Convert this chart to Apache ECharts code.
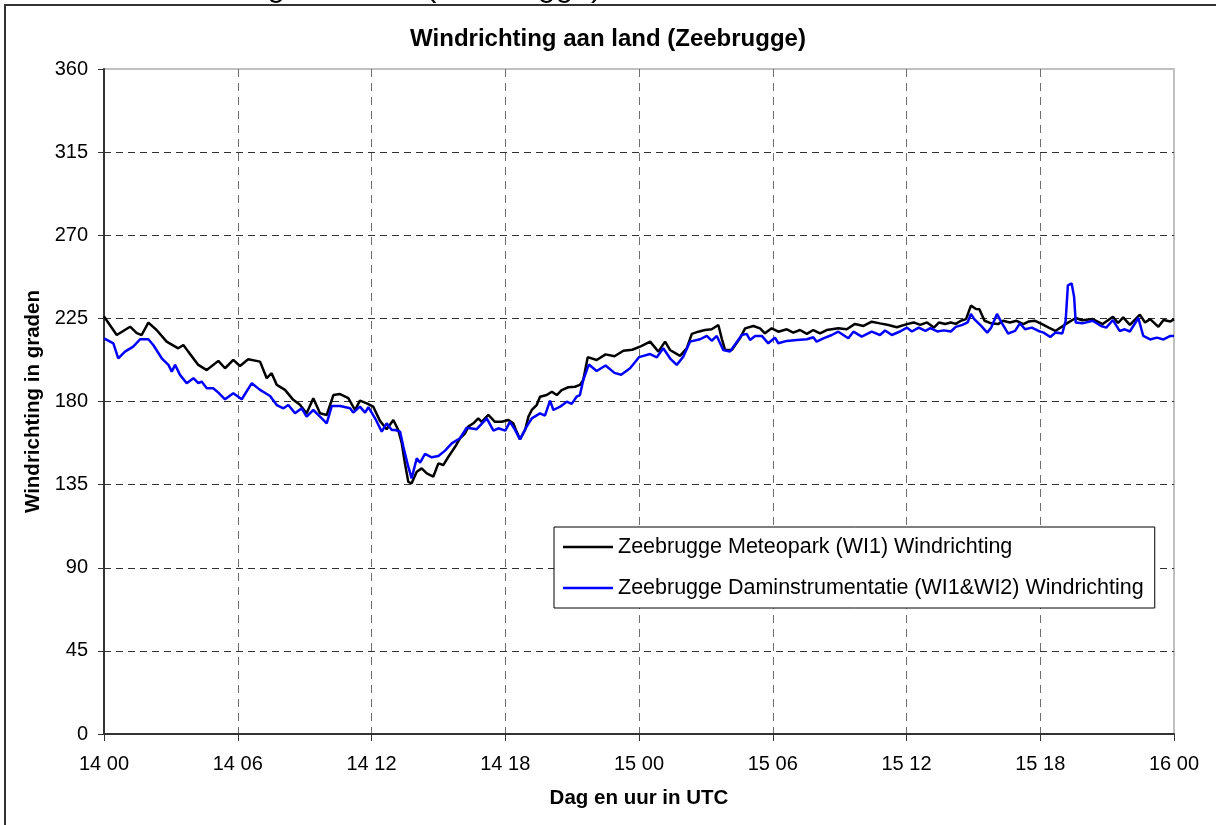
<!DOCTYPE html>
<html>
<head>
<meta charset="utf-8">
<script src="https://cdn.jsdelivr.net/npm/echarts@6/dist/echarts.min.js"></script>
<style>
  html, body { margin: 0; padding: 0; background: #fff; }
  #chart { width: 1216px; height: 825px; }
</style>
</head>
<body>
<div id="chart"></div>
<script>
// ---- data (hours since 14 00 UTC, wind direction in degrees) ----
const xTickLabels = ['14 00', '14 06', '14 12', '14 18', '15 00', '15 06', '15 12', '15 18', '16 00'];
const yTicks = [0, 45, 90, 135, 180, 225, 270, 315, 360];
const seriesNames = ['Zeebrugge Meteopark (WI1) Windrichting', 'Zeebrugge Daminstrumentatie (WI1&WI2) Windrichting'];

const meteoparkHours = [0, 0.57, 1.17, 1.47, 1.69, 1.99, 2.36, 2.81, 3.33, 3.56, 3.78, 4.23, 4.61, 5.13, 5.43, 5.8, 6.1, 6.47, 7.0, 7.3, 7.52, 7.75, 8.12, 8.49, 8.79, 9.09, 9.39, 9.69, 9.99, 10.29, 10.59, 10.96, 11.26, 11.48, 11.79, 12.08, 12.38, 12.68, 12.98, 13.2, 13.36, 13.5, 13.65, 13.8, 14.03, 14.25, 14.48, 14.77, 15.0, 15.22, 15.45, 15.75, 15.97, 16.2, 16.34, 16.57, 16.79, 16.94, 17.24, 17.54, 17.84, 18.14, 18.36, 18.51, 18.66, 18.89, 19.04, 19.19, 19.41, 19.56, 19.86, 20.09, 20.31, 20.53, 20.83, 21.13, 21.35, 21.5, 21.7, 22.1, 22.5, 22.9, 23.3, 23.7, 24.1, 24.5, 24.87, 25.17, 25.39, 25.84, 26.14, 26.37, 26.66, 26.96, 27.26, 27.56, 27.71, 27.86, 28.16, 28.53, 28.76, 29.13, 29.43, 29.65, 29.95, 30.25, 30.63, 30.92, 31.22, 31.53, 31.82, 32.12, 32.42, 32.94, 33.32, 33.69, 34.07, 34.44, 34.81, 35.19, 35.56, 36.02, 36.32, 36.62, 36.92, 37.23, 37.46, 37.73, 37.99, 38.21, 38.44, 38.67, 38.89, 39.12, 39.27, 39.5, 39.8, 40.11, 40.33, 40.64, 40.94, 41.24, 41.47, 41.77, 42.08, 42.38, 42.68, 43.14, 43.59, 43.88, 44.35, 44.8, 45.26, 45.49, 45.72, 46.02, 46.47, 46.7, 46.93, 47.3, 47.53, 47.84, 48];
const meteoparkValues = [226, 216, 220.5, 217, 216, 222.7, 218.7, 212.4, 208.8, 210.6, 207, 199.8, 197, 202, 198, 202.5, 199.2, 202.9, 201.6, 192.6, 195.3, 189, 186.3, 180.9, 178.2, 173.6, 181.8, 173.6, 172.7, 183.5, 184, 181.8, 175.4, 180.5, 179, 177.2, 169.5, 165, 170, 164.6, 157.3, 146.5, 136.5, 135.7, 142, 143.8, 141.1, 139.3, 146.5, 145.6, 150.1, 155.5, 160.1, 162.8, 166.4, 168.2, 170.9, 169, 172.7, 169, 169, 170, 168.2, 163.7, 159.5, 164.6, 171.8, 175.4, 178.1, 182.6, 183.5, 185.3, 183.5, 186.2, 187.7, 188, 189, 191.7, 204, 202.5, 205.5, 204.5, 207.5, 208, 210, 212.4, 207, 212.4, 207.9, 204.7, 208.8, 216.6, 217.8, 218.7, 219.1, 221.4, 214.2, 207.9, 207.9, 214.2, 219.6, 220.9, 219.6, 216.9, 219.6, 217.8, 219.1, 217.3, 218.7, 216.6, 218.7, 216.9, 218.7, 219.6, 219.1, 222, 220.9, 223.2, 222.3, 221.4, 220.2, 221.9, 222.8, 221.5, 222.8, 220, 222.8, 222, 222.8, 222, 223.7, 224.6, 231.9, 230.1, 230, 223.7, 222.3, 221.9, 223.7, 222.8, 223.7, 221.9, 223.3, 223.7, 221.9, 220, 218.2, 221.9, 225.2, 224, 224.6, 221.9, 225.9, 222.5, 225.5, 221.5, 227, 222.8, 224.6, 220.4, 224.1, 223.3, 224.6];

const damHours = [0, 0.42, 0.64, 0.94, 1.31, 1.62, 1.99, 2.21, 2.59, 2.89, 3.04, 3.19, 3.41, 3.71, 4.01, 4.23, 4.38, 4.61, 4.9, 5.13, 5.43, 5.8, 6.18, 6.63, 7.0, 7.45, 7.75, 8.05, 8.27, 8.57, 8.87, 9.09, 9.39, 9.77, 9.99, 10.22, 10.59, 11.04, 11.18, 11.48, 11.71, 11.86, 12.16, 12.46, 12.68, 12.91, 13.06, 13.28, 13.43, 13.65, 13.8, 14.03, 14.18, 14.4, 14.7, 15.0, 15.3, 15.6, 15.97, 16.27, 16.72, 17.17, 17.47, 17.69, 18.0, 18.21, 18.44, 18.66, 18.96, 19.19, 19.56, 19.78, 20.01, 20.16, 20.46, 20.76, 20.98, 21.2, 21.35, 21.5, 21.75, 22.1, 22.5, 22.9, 23.2, 23.6, 24.0, 24.5, 24.8, 25.09, 25.39, 25.69, 25.99, 26.29, 26.74, 27.04, 27.26, 27.49, 27.78, 28.08, 28.61, 28.83, 28.98, 29.21, 29.51, 29.8, 30.1, 30.25, 30.63, 31.08, 31.53, 31.82, 31.97, 32.27, 32.65, 32.94, 33.39, 33.62, 33.99, 34.44, 34.81, 35.04, 35.34, 35.71, 36.02, 36.24, 36.55, 36.85, 37.07, 37.38, 37.68, 37.99, 38.21, 38.51, 38.74, 38.89, 39.04, 39.35, 39.62, 39.8, 40.06, 40.26, 40.56, 40.87, 41.09, 41.32, 41.62, 41.92, 42.15, 42.45, 42.68, 42.99, 43.14, 43.24, 43.41, 43.52, 43.59, 43.89, 44.35, 44.73, 44.96, 45.26, 45.56, 45.79, 46.02, 46.4, 46.62, 46.93, 47.23, 47.53, 47.84, 48];
const damValues = [214.2, 211.5, 203.4, 207, 209.7, 213.7, 213.7, 210.6, 203.4, 199.8, 196.2, 199.8, 194.4, 189.9, 192.6, 189.9, 190.8, 187.2, 187.2, 184.8, 181.2, 184.5, 181.2, 189.9, 186.3, 183, 178.1, 176.3, 178.1, 173.6, 176.3, 171.8, 175.4, 170.9, 168.2, 177.6, 177.6, 176.3, 174, 177.2, 174, 176.9, 170.9, 163.7, 168.2, 164.6, 164.6, 163.7, 155.5, 144.7, 138.4, 149.3, 146.9, 151.6, 149.8, 150.5, 153.4, 157.3, 160.1, 165.8, 165, 170.9, 164.2, 165.5, 164.2, 169, 164.6, 159.5, 166.4, 170.9, 173.6, 172.3, 180.5, 175.4, 177.2, 179.9, 178.7, 182.6, 183.5, 191.7, 200, 196.5, 199.5, 195.5, 194.5, 198, 204, 205.7, 203.9, 208.8, 203.4, 199.8, 204.3, 212.4, 213.7, 215.5, 212.9, 215.5, 207.9, 207, 216, 216.6, 213.3, 215.5, 215.5, 211.5, 214.6, 211.5, 212.8, 213.3, 213.7, 214.8, 212.4, 214.2, 216, 217.8, 214.2, 217.8, 215.1, 217.8, 216, 218.4, 216, 217.9, 220, 217.9, 220, 218.2, 219.7, 217.9, 218.5, 217.9, 220.4, 221.5, 222.8, 227.4, 224.6, 220.9, 217.3, 220, 227.4, 222.8, 216.8, 218.2, 222.3, 219.1, 220, 218.2, 217.3, 214.9, 217.3, 216.8, 223.7, 242.9, 243.9, 236.5, 222.8, 222.3, 223.7, 220.9, 220, 224.1, 218.2, 219.1, 217.9, 225.2, 215.5, 213.6, 214.6, 213.6, 215.5, 215.5];

const zip = (xs, ys) => xs.map((x, i) => [x, ys[i]]);

const FONT = '"Liberation Sans", Arial, Helvetica, sans-serif';
const chart = echarts.init(document.getElementById('chart'), null, { renderer: 'canvas' });

chart.setOption({
  backgroundColor: '#ffffff',
  animation: false,
  textStyle: { fontFamily: FONT, color: '#000' },
  title: {
    text: 'Windrichting aan land (Zeebrugge)',
    left: 'center',
    top: 22,
    padding: [5, 0, 5, 6],
    textStyle: { fontFamily: FONT, fontSize: 24, fontWeight: 'bold', color: '#000' }
  },
  graphic: [
    {
      type: 'text',
      left: 109,
      top: -29,
      silent: true,
      style: { text: 'Windrichting aan land (Zeebrugge)', font: '32px ' + FONT, fill: '#000' }
    },
    {
      type: 'rect',
      shape: { x: 5, y: 5, width: 1300, height: 900 },
      style: { fill: 'none', stroke: '#333', lineWidth: 2 },
      silent: true
    }
  ],
  grid: {
    left: 104, right: 42, top: 69, bottom: 91,
    show: true, borderColor: '#c0c0c0', borderWidth: 2, backgroundColor: 'transparent'
  },
  legend: {
    orient: 'vertical',
    left: 554,
    top: 527,
    padding: [9, 11, 9, 9],
    itemGap: 19,
    itemWidth: 50,
    itemHeight: 2.5,
    icon: 'rect',
    backgroundColor: '#fff',
    borderColor: '#000',
    borderWidth: 1,
    textStyle: { fontFamily: FONT, fontSize: 21.5, color: '#000' },
    data: seriesNames
  },
  xAxis: {
    type: 'value',
    min: 0, max: 48, interval: 6,
    name: 'Dag en uur in UTC',
    nameLocation: 'middle',
    nameGap: 54,
    nameTextStyle: { fontFamily: FONT, fontSize: 20.5, fontWeight: 'bold', color: '#000' },
    axisLine: { show: true, onZero: false, lineStyle: { color: '#333', width: 2 } },
    axisTick: { show: true, inside: false, length: 7, lineStyle: { color: '#333', width: 1 } },
    axisLabel: {
      margin: 20, fontFamily: FONT, fontSize: 20, color: '#000',
      formatter: v => xTickLabels[Math.round(v / 6)]
    },
    splitLine: {
      show: true, showMinLine: false, showMaxLine: false,
      lineStyle: { color: '#6e6e6e', width: 1, type: [8, 6] }
    }
  },
  yAxis: {
    type: 'value',
    min: 0, max: 360, interval: 45,
    name: 'Windrichting in graden',
    nameLocation: 'middle',
    nameGap: 59,
    nameRotate: 90,
    nameTextStyle: { fontFamily: FONT, fontSize: 20.5, fontWeight: 'bold', color: '#000' },
    axisLine: { show: true, onZero: false, lineStyle: { color: '#333', width: 2 } },
    axisTick: { show: true, inside: false, length: 6, lineStyle: { color: '#333', width: 1 } },
    axisLabel: { margin: 16, fontFamily: FONT, fontSize: 20, color: '#000' },
    splitLine: {
      show: true, showMinLine: false, showMaxLine: false,
      lineStyle: { color: '#333', width: 1, type: [7, 5] }
    }
  },
  series: [
    {
      name: seriesNames[0],
      type: 'line',
      data: zip(meteoparkHours, meteoparkValues),
      symbol: 'none',
      showSymbol: false,
      smooth: false,
      lineStyle: { color: '#000000', width: 2.5 },
      itemStyle: { color: '#000000' },
      z: 3
    },
    {
      name: seriesNames[1],
      type: 'line',
      data: zip(damHours, damValues),
      symbol: 'none',
      showSymbol: false,
      smooth: false,
      lineStyle: { color: '#0000ff', width: 2.5 },
      itemStyle: { color: '#0000ff' },
      z: 4
    }
  ]
});
</script>
</body>
</html>
